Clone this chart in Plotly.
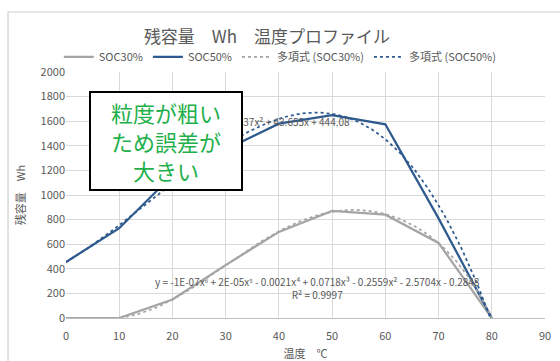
import numpy as np
import plotly.graph_objects as go

# Temperature (°C) and remaining capacity (Wh) per state of charge
temps = [0, 10, 20, 30, 40, 50, 60, 70, 80]
soc30 = [0, 0, 150, 430, 700, 870, 840, 610, 0]
soc50 = [455, 730, 1160, 1370, 1580, 1650, 1575, 810, 0]

x_ticks = [0, 10, 20, 30, 40, 50, 60, 70, 80, 90]
y_ticks = [0, 200, 400, 600, 800, 1000, 1200, 1400, 1600, 1800, 2000]

GRAY = "#a5a5a5"
BLUE = "#2e5a8e"
TEXT = "#595959"
FONT = "Noto Sans CJK JP"

# Polynomial trendlines fitted to each series
xs = np.linspace(0, 80, 161)
fit30 = np.polyval(np.polyfit(temps, soc30, 6), xs)
fit50 = np.polyval(np.polyfit(temps, soc50, 4), xs)

fig = go.Figure()
fig.add_trace(go.Scatter(x=temps, y=soc30, mode="lines", name="SOC30%",
                         line=dict(color=GRAY, width=2.25)))
fig.add_trace(go.Scatter(x=temps, y=soc50, mode="lines", name="SOC50%",
                         line=dict(color=BLUE, width=2.25)))
fig.add_trace(go.Scatter(x=xs, y=fit30, mode="lines", name="多項式 (SOC30%)",
                         line=dict(color=GRAY, width=1.75, dash="dot")))
fig.add_trace(go.Scatter(x=xs, y=fit50, mode="lines", name="多項式 (SOC50%)",
                         line=dict(color=BLUE, width=1.75, dash="dot")))

# Trendline equations
fig.add_annotation(x=53.8, y=1600, xanchor="right", yanchor="middle", showarrow=False,
                   text="y = 3E-05x⁴ - 0.0096x³ - 0.1437x² + 43.655x + 444.08",
                   font=dict(family=FONT, size=10, color=TEXT))
fig.add_annotation(x=47.2, y=240, xanchor="center", yanchor="middle", showarrow=False,
                   text="y = -1E-07x⁶ + 2E-05x⁵ - 0.0021x⁴ + 0.0718x³ - 0.2559x² - 2.5704x - 0.2848<br>R² = 0.9997",
                   font=dict(family=FONT, size=10, color=TEXT))

# Callout box
fig.add_annotation(x=18.8, y=1443, xanchor="center", yanchor="middle", showarrow=False,
                   text="粒度が粗い<br>ため誤差が<br>大きい",
                   font=dict(family=FONT, size=22, color="#1fb04c"),
                   bgcolor="white", bordercolor="black", borderwidth=2, borderpad=0,
                   width=150, height=96)

# Outer chart frame
fig.add_shape(type="rect", xref="paper", yref="paper", x0=-0.121, x1=1.2, y0=-0.3, y1=1.244,
              line=dict(color="#cfcfcf", width=1.2), layer="above")

fig.update_layout(
    width=560, height=361,
    margin=dict(l=66, r=15, t=72, b=43),
    paper_bgcolor="white", plot_bgcolor="white",
    font=dict(family=FONT, color=TEXT, size=11),
    title=dict(text="残容量　Wh　温度プロファイル", x=267 / 560, xanchor="center",
               y=1 - 37 / 361, yanchor="middle",
               font=dict(family=FONT, size=17, color=TEXT)),
    legend=dict(orientation="h", x=-0.015, xanchor="left", y=1.061, yanchor="middle",
                font=dict(family=FONT, size=11, color=TEXT), itemwidth=30,
                bgcolor="rgba(0,0,0,0)", tracegroupgap=0),
    showlegend=True,
)
fig.update_xaxes(range=[0, 90], tickvals=x_ticks, showgrid=True, gridcolor="#d9d9d9",
                 zeroline=False, showline=True, linecolor="#bfbfbf", mirror=False,
                 ticks="", ticklabelstandoff=8, automargin=False,
                 tickfont=dict(size=11, color=TEXT),
                 title=dict(text="温度　℃", font=dict(size=11, color=TEXT), standoff=8))
fig.update_yaxes(range=[0, 2000], tickvals=y_ticks, showgrid=True, gridcolor="#d9d9d9",
                 zeroline=False, showline=False, ticks="", automargin=False,
                 tickfont=dict(size=11, color=TEXT),
                 title=dict(text="残容量　Wh", font=dict(size=11, color=TEXT), standoff=12))

fig.write_html("out.html")
